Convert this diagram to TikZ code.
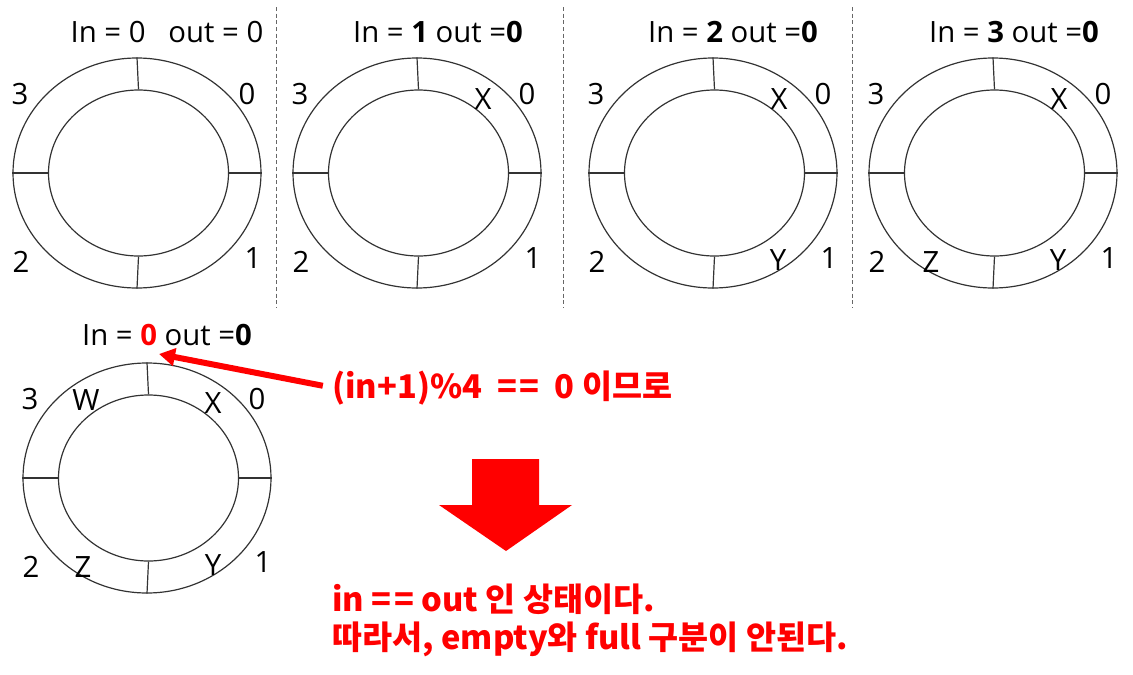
\documentclass[tikz,border=0pt]{standalone}
\usepackage{fontspec}
\setmainfont{Open Sans}
\newfontfamily\kofont{Noto Sans CJK KR}
\usetikzlibrary{shapes.geometric, arrows.meta, positioning}

\begin{document}
\begin{tikzpicture}[
  x=0.75pt, y=-0.75pt,
  ringout/.style={draw=black!80, ellipse, line width=0.9pt, inner sep=0pt, minimum width=186pt, minimum height=172.5pt},
  ringin/.style={draw=black!80, ellipse, line width=0.9pt, inner sep=0pt, minimum width=135pt, minimum height=124.5pt},
  slot/.style={draw=black!80, line width=0.9pt},
  idx/.style={font=\fontsize{22}{26}\selectfont, inner sep=0pt},
  head/.style={font=\fontsize{22}{26}\selectfont, inner sep=0pt},
  sepline/.style={draw=black!60, line width=0.7pt, dash pattern=on 3pt off 2pt},
  note/.style={font=\kofont\bfseries\fontsize{24.5}{30}\selectfont, text=red, inner sep=0pt, anchor=base west},
  pointer/.style={draw=red, line width=4.5pt, -{Triangle[length=12pt, width=13pt]}}
]
\useasboundingbox (0,0) rectangle (1133,675);

% separators
\draw[sepline] (276,7) -- (276,308);
\draw[sepline] (563.5,7) -- (563.5,308);
\draw[sepline] (852.5,7) -- (852.5,308);

% ring A : In = 0, out = 0
\node[head] (headA) at (167,32) {In = 0 \ \ out = 0};
\node[ringout] (ringA) at (137,173) {};
\node[ringin] (holeA) at (138.5,173) {};
\draw[slot] (ringA.north) -- (holeA.north);
\draw[slot] (ringA.south) -- (holeA.south);
\draw[slot] (ringA.west) -- (holeA.west);
\draw[slot] (ringA.east) -- (holeA.east);
\node[idx] (a3) at (20,94) {3};
\node[idx] (a0) at (247,94) {0};
\node[idx] (a2) at (21,262) {2};
\node[idx] (a1) at (253,258) {1};

% ring B : In = 1
\node[head] (headB) at (438,32) {In = \textbf{1} out =\textbf{0}};
\node[ringout] (ringB) at (417,173) {};
\node[ringin] (holeB) at (418.5,173) {};
\draw[slot] (ringB.north) -- (holeB.north);
\draw[slot] (ringB.south) -- (holeB.south);
\draw[slot] (ringB.west) -- (holeB.west);
\draw[slot] (ringB.east) -- (holeB.east);
\node[idx] (b3) at (300,94) {3};
\node[idx] (bX) at (483,99) {X};
\node[idx] (b0) at (527,94) {0};
\node[idx] (b2) at (301,262) {2};
\node[idx] (b1) at (533,258) {1};

% ring C : In = 2
\node[head] (headC) at (733,32) {In = \textbf{2} out =\textbf{0}};
\node[ringout] (ringC) at (713,173) {};
\node[ringin] (holeC) at (714.5,173) {};
\draw[slot] (ringC.north) -- (holeC.north);
\draw[slot] (ringC.south) -- (holeC.south);
\draw[slot] (ringC.west) -- (holeC.west);
\draw[slot] (ringC.east) -- (holeC.east);
\node[idx] (c3) at (596,94) {3};
\node[idx] (cX) at (779,99) {X};
\node[idx] (c0) at (823,94) {0};
\node[idx] (c2) at (597,262) {2};
\node[idx] (cY) at (778,260) {Y};
\node[idx] (c1) at (829,258) {1};

% ring D : In = 3
\node[head] (headD) at (1014,32) {In = \textbf{3} out =\textbf{0}};
\node[ringout] (ringD) at (993,173) {};
\node[ringin] (holeD) at (994.5,173) {};
\draw[slot] (ringD.north) -- (holeD.north);
\draw[slot] (ringD.south) -- (holeD.south);
\draw[slot] (ringD.west) -- (holeD.west);
\draw[slot] (ringD.east) -- (holeD.east);
\node[idx] (d3) at (876,94) {3};
\node[idx] (dX) at (1059,99) {X};
\node[idx] (d0) at (1103,94) {0};
\node[idx] (d2) at (877,262) {2};
\node[idx] (dZ) at (931,262) {Z};
\node[idx] (dY) at (1058,260) {Y};
\node[idx] (d1) at (1109,258) {1};

% ring E : wrap around
\node[head] (headE) at (167,335) {In = \textcolor{red}{\textbf{0}} out =\textbf{0}};
\node[ringout] (ringE) at (147,478) {};
\node[ringin] (holeE) at (148.5,478) {};
\draw[slot] (ringE.north) -- (holeE.north);
\draw[slot] (ringE.south) -- (holeE.south);
\draw[slot] (ringE.west) -- (holeE.west);
\draw[slot] (ringE.east) -- (holeE.east);
\node[idx] (e3) at (30,399) {3};
\node[idx] (eW) at (86,400) {W};
\node[idx] (eX) at (213,403) {X};
\node[idx] (e0) at (257,399) {0};
\node[idx] (e2) at (31,567) {2};
\node[idx] (eZ) at (83,567) {Z};
\node[idx] (eY) at (213,565) {Y};
\node[idx] (e1) at (263,562) {1};

% notes
\node[note] (note1) at (332,398) {(in+1)\%4 \ =\kern2pt= \ 0 이므로};
\coordinate (tipE) at (159,354);
\draw[pointer, shorten <=7pt] (note1.west) -- (tipE);

\fill[red] (472,459) -- (539,459) -- (539,505) -- (572,505) -- (506,551) -- (439,505) -- (472,505) -- cycle;

\node[note] (note2) at (332,611) {in =\kern2pt= out 인 상태이다.};
\node[note] (note3) at (332,649) {따라서, empty와 full 구분이 안된다.};
\end{tikzpicture}
\end{document}
